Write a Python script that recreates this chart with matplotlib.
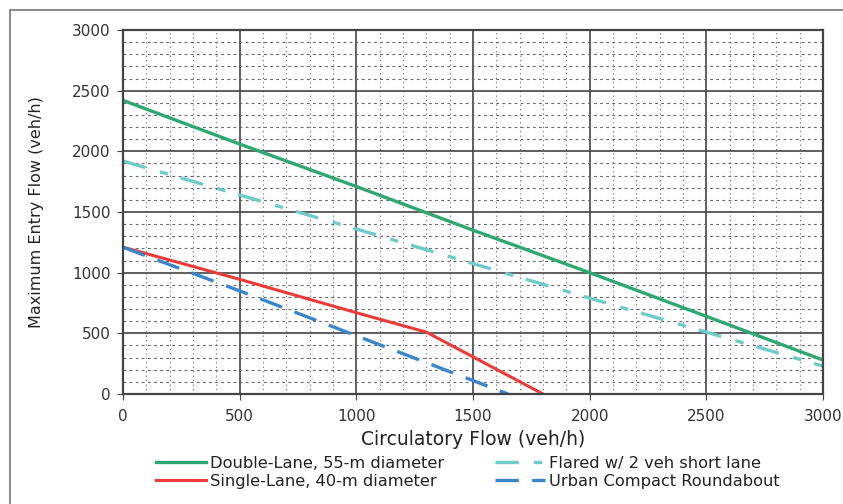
import matplotlib
matplotlib.use("Agg")
import matplotlib.pyplot as plt
from matplotlib.patches import Rectangle

# datos (veh/h)
doble_x = [0, 500, 1000, 1500, 2000, 2500, 3000]
doble_y = [2420, 2060, 1710, 1350, 1000, 640, 280]

flared_x = [0, 1000, 2000, 3000]
flared_y = [1920, 1360, 790, 230]

simple_x = [0, 500, 1000, 1300, 1800]
simple_y = [1210, 945, 670, 510, 0]

urbana_x = [0, 500, 1000, 1650]
urbana_y = [1210, 850, 480, 0]

etiquetas = ["Double-Lane, 55-m diameter", "Single-Lane, 40-m diameter",
             "Flared w/ 2 veh short lane", "Urban Compact Roundabout"]
ticks = [0, 500, 1000, 1500, 2000, 2500, 3000]

fig = plt.figure(figsize=(8.43, 5.04), dpi=100)
ax = fig.add_axes([123 / 843, 1 - 394 / 504, 700 / 843, 364 / 504])

# marco exterior
fig.patches.append(Rectangle((10 / 843, -0.1), 1.2, 1 - 10 / 504 + 0.1,
                             transform=fig.transFigure, fill=False,
                             edgecolor="#777777", linewidth=1.2))

ax.set_xlim(0, 3000)
ax.set_ylim(0, 3000)
ax.set_xticks(ticks)
ax.set_yticks(ticks)
ax.set_xticks(range(0, 3001, 100), minor=True)
ax.set_yticks(range(0, 3001, 100), minor=True)
ax.grid(which="major", color="#444444", linewidth=1.2)
ax.xaxis.grid(which="minor", color="#666666", linewidth=0.8, linestyle=(0, (1, 3)))
ax.yaxis.grid(which="minor", color="#666666", linewidth=0.8, linestyle=(0, (2.5, 3)))
ax.tick_params(which="minor", length=0)
ax.tick_params(which="major", length=4, direction="out", color="#444444",
               labelsize=11, labelcolor="#333333")
ax.tick_params(axis="x", pad=7)
ax.tick_params(axis="y", pad=5)
for s in ax.spines.values():
    s.set_color("#444444")
    s.set_linewidth(1.6)
ax.set_axisbelow(True)

l1, = ax.plot(doble_x, doble_y, color="#2ea872", linewidth=2.4)
l3, = ax.plot(simple_x, simple_y, color="#ee3b38", linewidth=2.2)
l2, = ax.plot(flared_x, flared_y, color="#6dccc9", linewidth=2.4,
              dashes=(7, 4.5, 2.5, 4))
l4, = ax.plot(urbana_x, urbana_y, color="#3a85cc", linewidth=2.4,
              dashes=(7, 4))

ax.set_xlabel("Circulatory Flow (veh/h)", fontsize=13.5, color="#222222",
              labelpad=4)
ax.set_ylabel("Maximum Entry Flow (veh/h)", fontsize=11.5, color="#222222",
              labelpad=20)

fig.legend([l1, l3, l2, l4], etiquetas, ncol=2, loc="center left",
           bbox_to_anchor=(156 / 843, 1 - 472.5 / 504), frameon=False,
           fontsize=11.7, handlelength=3.1, handletextpad=0.25,
           columnspacing=3.1, labelspacing=0.2, borderpad=0,
           borderaxespad=0, labelcolor="#222222")

fig.savefig("out.png", dpi=100)
